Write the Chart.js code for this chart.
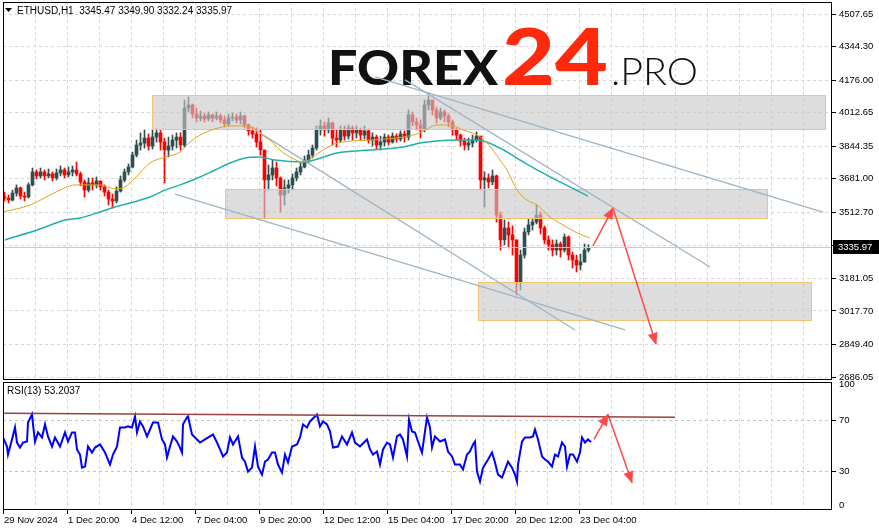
<!DOCTYPE html>
<html>
<head>
<meta charset="utf-8">
<script src="https://cdn.jsdelivr.net/npm/chart.js@4.4.1/dist/chart.umd.min.js"></script>
<style>
  html, body { margin: 0; padding: 0; background: #fff; }
  #wrap { position: relative; width: 879px; height: 531px; overflow: hidden; }
  #main { position: absolute; left: 0; top: 0; }
  #rsi { position: absolute; left: 0; top: 381px; }
</style>
</head>
<body>
<div id="wrap">
  <canvas id="main" width="879" height="381" style="width:879px;height:381px"></canvas>
  <canvas id="rsi" width="879" height="150" style="width:879px;height:150px"></canvas>
</div>
<script>
// ETHUSD H1, drawn as 4-hour candles (x = hours since 29 Nov 04:00)
const HOURS_PER_CANDLE = 4;
const startOpen = 3590;
const closes = [3584,3574,3609,3635,3594,3589,3650,3715,3695,3715,
  3695,3705,3685,3710,3725,3700,3715,3725,3705,3665,
  3624,3660,3650,3670,3640,3614,3579,3569,3619,3675,
  3715,3740,3800,3850,3860,3885,3845,3890,3911,3865,
  3825,3845,3875,3890,3850,4036,4051,4006,3986,3996,
  3981,4001,3986,3996,3976,3956,3986,3991,3976,3996,
  3951,3921,3906,3865,3825,3675,3700,3735,3685,3599,
  3635,3650,3685,3715,3740,3775,3800,3835,3926,3946,
  3926,3961,3885,3875,3926,3895,3936,3911,3926,3900,
  3921,3875,3890,3850,3865,3890,3865,3895,3880,3906,
  3890,4001,3966,3951,3926,4051,4076,4026,3986,4016,
  3996,3966,3926,3900,3870,3850,3860,3875,3895,3675,
  3685,3665,3695,3499,3374,3434,3399,3374,3163,3298,
  3414,3449,3464,3499,3434,3374,3349,3323,3354,3323,
  3389,3298,3273,3248,3263,3323,3335.97];
const highs = [3614,3599,3624,3650,3640,3614,3660,3735,3725,3735,
  3725,3730,3715,3730,3745,3735,3740,3745,3765,3715,
  3675,3685,3685,3690,3670,3650,3624,3604,3640,3695,
  3730,3755,3815,3875,3911,3926,3906,3926,3931,3926,
  3885,3890,3900,3911,3911,4076,4091,4056,4036,4021,
  4011,4016,4006,4016,4006,3996,4006,4011,4006,4016,
  4001,3956,3941,3936,3926,3825,3750,3775,3765,3690,
  3675,3675,3705,3735,3760,3795,3825,3850,3946,3976,
  3966,3986,3966,3926,3946,3946,3951,3946,3946,3936,
  3946,3931,3911,3900,3895,3906,3900,3911,3906,3921,
  3921,4026,4016,3986,3976,4076,4111,4061,4041,4036,
  4026,4006,3976,3936,3906,3885,3885,3900,3916,3890,
  3715,3705,3725,3700,3514,3474,3464,3444,3374,3323,
  3434,3479,3484,3549,3514,3444,3394,3374,3374,3364,
  3404,3394,3313,3298,3303,3354,3350];
const lows = [3569,3559,3569,3594,3579,3569,3584,3645,3680,3685,
  3675,3685,3670,3675,3695,3685,3690,3695,3695,3645,
  3589,3614,3624,3635,3624,3594,3549,3534,3559,3614,
  3665,3700,3735,3790,3825,3835,3825,3830,3865,3825,
  3660,3790,3825,3835,3825,3840,4016,3986,3966,3971,
  3966,3971,3966,3976,3961,3941,3946,3971,3961,3956,
  3936,3900,3885,3840,3800,3484,3624,3675,3645,3514,
  3549,3609,3624,3670,3700,3735,3760,3785,3825,3900,
  3895,3911,3850,3840,3865,3875,3880,3875,3885,3875,
  3880,3860,3845,3830,3825,3845,3850,3860,3865,3870,
  3865,3875,3946,3926,3885,3916,4026,4001,3961,3976,
  3966,3941,3900,3875,3845,3825,3825,3840,3865,3624,
  3539,3635,3650,3464,3323,3349,3334,3298,3098,3123,
  3283,3399,3424,3454,3404,3354,3323,3293,3298,3288,
  3313,3273,3233,3213,3223,3263,3313];

// moving averages
const maSlowHours = [0,27,57,72,97,112,122,132,147,162,177,187,197,212,227,242,252,262,267,277,287,300,317,334,367,400,417,434,447,460,474,484,497,504,514,524,534,547,560,574,587];
const maSlowValues = [3514,3549,3624,3650,3650,3630,3640,3685,3760,3790,3815,3865,3900,3931,3946,3946,3931,3890,3875,3825,3790,3765,3815,3860,3875,3890,3911,3951,3951,3926,3900,3860,3775,3725,3624,3574,3549,3489,3449,3409,3384];
const maLongHours = [2,37,62,77,97,112,127,147,162,177,197,212,227,242,257,272,300,334,367,400,417,434,454,474,497,517,534,557,585];
const maLongValues = [3374,3429,3474,3484,3514,3539,3559,3589,3624,3650,3690,3725,3760,3785,3790,3775,3765,3810,3825,3840,3860,3870,3875,3875,3835,3775,3725,3665,3594];

// drawn objects
const trendHours = [[172,622],[252,572],[402,707],[372,820]];
const trendPrices = [[3604,2922],[3926,2922],[4177,3238],[4192,3514]];
const zoneHours = [[149,823],[222,765],[475,809]];
const zonePrices = [[3926,4101],[3479,3629],[2967,3163]];
const arrowHours = [[590,610],[610,653]];
const arrowPrices = [[3344,3534],[3534,2852]];

// RSI(13)
const rsiCurrent = '53.2037';
const rsiHours = [0,4,5,9,12,14,17,20,24,25,29,30,32,35,39,42,45,49,52,57,62,65,69,72,74,77,79,82,85,89,92,97,102,107,110,114,117,122,125,129,132,134,137,140,144,147,150,155,159,162,164,167,170,174,177,179,180,184,185,189,192,197,202,207,210,214,217,220,224,227,230,235,239,242,245,249,252,255,259,262,265,269,272,275,279,282,285,289,294,297,300,304,307,312,314,317,320,324,327,330,335,339,344,349,352,357,364,367,370,374,377,380,384,387,390,394,397,400,404,406,409,412,415,419,422,424,427,429,432,437,442,445,449,452,457,460,464,467,470,472,474,477,480,485,489,492,495,499,502,505,509,512,514,515,519,522,527,530,532,535,539,542,545,549,552,555,559,562,564,567,570,574,577,579,582,585,588];
const rsiValues = [56.7,49.6,43.3,55.1,64.5,52.7,48.8,52.7,53.5,68.4,74.7,66.9,53.5,60.6,56.7,66.9,57.5,49.6,56.7,49.6,60.6,53.5,60.6,60.6,47.3,43.3,33.1,33.9,49.6,44.9,48.8,51.2,44.9,35.5,43.3,49.6,64.5,64.5,65.3,64.5,73.1,60.6,69.2,65.3,57.5,62.9,68.4,68.4,55.1,51.2,41.0,49.6,57.5,53.5,48.8,44.9,66.9,72.4,73.1,59.0,56.7,52.7,55.1,57.5,59.0,52.7,47.3,41.8,44.9,56.7,51.2,57.5,41.0,37.8,30.0,33.1,49.6,33.9,27.6,37.8,39.4,44.9,44.9,35.5,29.2,43.3,37.1,49.6,51.2,56.7,66.9,64.5,69.2,73.1,74.7,65.3,69.2,66.9,61.4,48.8,49.6,57.5,51.2,60.6,52.7,49.6,55.1,47.3,43.3,45.7,35.5,47.3,52.7,51.2,41.0,57.5,59.0,55.1,41.8,70.8,61.4,60.6,53.5,44.9,61.4,72.4,64.5,48.8,57.5,53.5,55.1,45.7,41.8,35.5,35.5,31.6,43.3,45.7,51.2,53.5,30.0,22.2,33.1,39.4,44.9,37.1,27.6,25.3,31.6,37.8,33.1,27.6,22.2,35.5,53.5,56.7,56.7,57.5,62.9,55.1,41.8,39.4,37.8,33.9,43.3,41.8,52.7,49.6,33.9,43.3,43.3,37.8,44.9,56.7,52.7,55.1,53.2];
const rsiLineHours = [0,672];
const rsiLineValues = [75.5,72.4];
const rsiArrowHours = [[591,605],[605,629]];
const rsiArrowValues = [[55.1,74.7],[74.7,21.4]];

// axes
const priceTicks = [2686.05,2849.40,3017.70,3181.05,3346.90,3512.70,3681.00,3844.35,4012.65,4176.00,4344.30,4507.65];
const hiddenPriceTick = 3346.90;
const xLabels = ['29 Nov 2024','1 Dec 20:00','4 Dec 12:00','7 Dec 04:00','9 Dec 20:00','12 Dec 12:00','15 Dec 04:00','17 Dec 20:00','20 Dec 12:00','23 Dec 04:00'];
const rsiTickValues = [3.9, 30, 70, 98.4];
const rsiTickLabels = ['0', '30', '70', '100'];
const header = 'ETHUSD,H1  3345.47 3349.90 3332.24 3335.97';

const gridHours = [];
for (let h = 0; h <= 829; h += 32) gridHours.push(h);

Chart.defaults.font.family = "'Liberation Sans', Arial, sans-serif";
Chart.defaults.font.size = 9.5;
Chart.defaults.color = '#000';

const opens = [startOpen].concat(closes.slice(0, -1));
const candleX = closes.map((c, i) => i * HOURS_PER_CANDLE + 1.5);
const candleCol = closes.map((c, i) => c >= opens[i] ? '#2f4f4f' : '#ff0000');
const lastClose = closes[closes.length - 1];

function pts(hs, vs) { return hs.map((h, i) => ({ x: h, y: vs[i] })); }
function lineSet(data, color, width, extra) {
  return Object.assign({ type: 'line', data: data, borderColor: color, borderWidth: width,
    pointRadius: 0, fill: false, order: 1 }, extra || {});
}

function frame(chart) {
  const { ctx, chartArea: a } = chart;
  ctx.save();
  ctx.strokeStyle = '#000';
  ctx.lineWidth = 1;
  ctx.strokeRect(Math.round(a.left) + 0.5, Math.round(a.top) + 0.5,
    Math.round(a.right - a.left) - 1, Math.round(a.bottom - a.top) - 1);
  ctx.restore();
}

function arrowHeads(chart) {
  const ctx = chart.ctx;
  chart.data.datasets.forEach((ds, i) => {
    if (!ds.arrow) return;
    const p = chart.getDatasetMeta(i).data;
    const a = p[p.length - 2], b = p[p.length - 1];
    const ang = Math.atan2(b.y - a.y, b.x - a.x);
    const L = 11, W = 5;
    ctx.save();
    ctx.fillStyle = ds.borderColor;
    ctx.translate(b.x, b.y);
    ctx.rotate(ang);
    ctx.beginPath();
    ctx.moveTo(1, 0);
    ctx.lineTo(-L, -W);
    ctx.lineTo(-L, W);
    ctx.closePath();
    ctx.fill();
    ctx.restore();
  });
}

function fitText(ctx, text, x, base, w, font, color) {
  ctx.font = font;
  const m = ctx.measureText(text).width;
  ctx.save();
  ctx.translate(x, base);
  ctx.scale(w / m, 1);
  ctx.fillStyle = color;
  ctx.textBaseline = 'alphabetic';
  ctx.fillText(text, 0, 0);
  ctx.restore();
}

const mainPlugin = {
  id: 'mainDecor',
  beforeDatasetsDraw(chart) {
    const ctx = chart.ctx;
    // logo
    fitText(ctx, 'FOREX', 328, 85, 170, "900 48px Lato, 'Open Sans', sans-serif", '#111');
    fitText(ctx, '24', 502, 85, 106, "900 79px Lato, 'Open Sans', sans-serif", '#ff2a0c');
    fitText(ctx, '.PRO', 611, 85, 87, "300 37px Lato, 'Open Sans', sans-serif", '#111');
    // header
    ctx.save();
    ctx.fillStyle = '#000';
    ctx.beginPath();
    ctx.moveTo(5, 8); ctx.lineTo(12, 8); ctx.lineTo(8.5, 12); ctx.closePath(); ctx.fill();
    ctx.font = "10px 'Liberation Sans', Arial, sans-serif";
    ctx.textBaseline = 'alphabetic';
    ctx.fillText(header, 17, 14);
    ctx.restore();
  },
  afterDatasetDraw(chart, args) {
    if (args.index !== 1) return;
    const { ctx, chartArea: a, scales: { x, y } } = chart;
    ctx.save();
    ctx.beginPath();
    ctx.rect(a.left, a.top, a.right - a.left, a.bottom - a.top);
    ctx.clip();
    zoneHours.forEach((hh, i) => {
      const x1 = Math.round(x.getPixelForValue(hh[0]));
      const x2 = Math.round(x.getPixelForValue(hh[1]));
      const y1 = Math.round(y.getPixelForValue(zonePrices[i][1]));
      const y2 = Math.round(y.getPixelForValue(zonePrices[i][0]));
      ctx.fillStyle = 'rgba(200,200,200,0.62)';
      ctx.fillRect(x1, y1, x2 - x1, y2 - y1);
      ctx.strokeStyle = '#f2c46e';
      ctx.lineWidth = 1;
      ctx.strokeRect(x1 + 0.5, y1 + 0.5, x2 - x1 - 1, y2 - y1 - 1);
    });
    ctx.restore();
  },
  afterDatasetsDraw(chart) {
    arrowHeads(chart);
    frame(chart);
  },
  afterDraw(chart) {
    const { ctx, chartArea: a, scales: { y } } = chart;
    const py = Math.round(y.getPixelForValue(lastClose));
    ctx.save();
    ctx.fillStyle = '#000';
    ctx.fillRect(a.right + 1, py - 7, 46, 14);
    ctx.fillStyle = '#fff';
    ctx.font = "9.5px 'Liberation Sans', Arial, sans-serif";
    ctx.textBaseline = 'middle';
    ctx.fillText(lastClose.toFixed(2), a.right + 6, py);
    ctx.restore();
  }
};

const rsiPlugin = {
  id: 'rsiDecor',
  beforeDatasetsDraw(chart) {
    const ctx = chart.ctx;
    ctx.save();
    ctx.fillStyle = '#000';
    ctx.font = "10px 'Liberation Sans', Arial, sans-serif";
    ctx.textBaseline = 'alphabetic';
    ctx.fillText('RSI(13) ' + rsiCurrent, 7, 13);
    ctx.restore();
  },
  afterDatasetsDraw(chart) {
    arrowHeads(chart);
    frame(chart);
  }
};

const gridCol = '#d6d6d6';

new Chart(document.getElementById('main'), {
  type: 'bar',
  data: {
    datasets: [
      { label: 'wicks', data: closes.map((c, i) => ({ x: candleX[i], y: [Math.min(lows[i], opens[i], c), Math.max(highs[i], opens[i], c)] })),
        backgroundColor: candleCol, barThickness: 1, grouped: false, order: 4, borderWidth: 0 },
      { label: 'bodies', data: closes.map((c, i) => ({ x: candleX[i], y: [opens[i], c] })),
        backgroundColor: candleCol, barThickness: 3, grouped: false, order: 3, borderWidth: 0, minBarLength: 1 },
      lineSet(pts(maSlowHours, maSlowValues), '#daa520', 1, { cubicInterpolationMode: 'monotone' }),
      lineSet(pts(maLongHours, maLongValues), '#20b2aa', 1.5, { cubicInterpolationMode: 'monotone' }),
      lineSet(pts([0, 829], [lastClose, lastClose]), '#c8c8c8', 1),
      ...trendHours.map((hh, i) => lineSet(pts(hh, trendPrices[i]), '#9fb4c4', 1.3)),
      ...arrowHours.map((hh, i) => lineSet(pts(hh, arrowPrices[i]), '#ff4a4a', 1.5, { arrow: true }))
    ]
  },
  options: {
    responsive: false,
    animation: false,
    events: [],
    layout: { padding: { left: 3, top: 2, right: 0, bottom: 1 } },
    plugins: { legend: { display: false }, tooltip: { enabled: false } },
    scales: {
      x: {
        type: 'linear', min: 0, max: 829, offset: false,
        afterBuildTicks: s => { s.ticks = gridHours.map(v => ({ value: v })); },
        afterFit: s => { s.height = 0; s.paddingLeft = 0; s.paddingRight = 0; },
        ticks: { display: false },
        grid: { color: gridCol, drawTicks: false, offset: false },
        border: { display: false, dash: [3, 3] }
      },
      y: {
        position: 'right', min: 2671.0, max: 4567.9,
        afterBuildTicks: s => { s.ticks = priceTicks.map(v => ({ value: v })); },
        afterFit: s => { s.width = 47; s.paddingTop = 0; s.paddingBottom = 0; },
        ticks: { autoSkip: false, padding: 3, color: '#000',
          callback: v => v === hiddenPriceTick ? '' : v.toFixed(2) },
        grid: { color: gridCol, tickColor: '#000', tickLength: 4 },
        border: { display: false, dash: [3, 3] }
      }
    }
  },
  plugins: [mainPlugin]
});

new Chart(document.getElementById('rsi'), {
  type: 'line',
  data: {
    datasets: [
      lineSet(pts(rsiLineHours, rsiLineValues), '#954440', 1.5),
      lineSet(pts(rsiHours, rsiValues), '#0000ff', 2),
      ...rsiArrowHours.map((hh, i) => lineSet(pts(hh, rsiArrowValues[i]), '#ff4a4a', 1.5, { arrow: true }))
    ]
  },
  options: {
    responsive: false,
    animation: false,
    events: [],
    layout: { padding: { left: 3, top: 1, right: 0, bottom: 0 } },
    plugins: { legend: { display: false }, tooltip: { enabled: false } },
    scales: {
      x: {
        type: 'linear', min: 0, max: 829, offset: false,
        afterBuildTicks: s => { s.ticks = gridHours.map(v => ({ value: v })); },
        afterFit: s => { s.height = 21; s.paddingLeft = 0; s.paddingRight = 0; },
        ticks: { autoSkip: false, maxRotation: 0, minRotation: 0, align: 'start', padding: 1, labelOffset: 1, color: '#000',
          callback: v => (v % 64 === 0 && v / 64 < xLabels.length) ? xLabels[v / 64] : '' },
        grid: { color: gridCol, tickLength: 4,
          tickColor: c => (c.tick && c.tick.value % 64 === 0 && c.tick.value / 64 < xLabels.length) ? '#000' : 'rgba(0,0,0,0)' },
        border: { display: false, dash: [3, 3] }
      },
      y: {
        position: 'right', min: 0, max: 100,
        afterBuildTicks: s => { s.ticks = rsiTickValues.map(v => ({ value: v })); },
        afterFit: s => { s.width = 47; s.paddingTop = 0; s.paddingBottom = 0; },
        ticks: { autoSkip: false, padding: 3, color: '#000', callback: (v, i) => rsiTickLabels[i] },
        grid: { tickLength: 4,
          color: c => (c.tick && (c.tick.value === 30 || c.tick.value === 70)) ? '#c4c4c4' : 'rgba(0,0,0,0)',
          tickColor: c => (c.tick && (c.tick.value === 30 || c.tick.value === 70)) ? '#000' : 'rgba(0,0,0,0)' },
        border: { display: false, dash: [3, 3] }
      }
    }
  },
  plugins: [rsiPlugin]
});
</script>
</body>
</html>
